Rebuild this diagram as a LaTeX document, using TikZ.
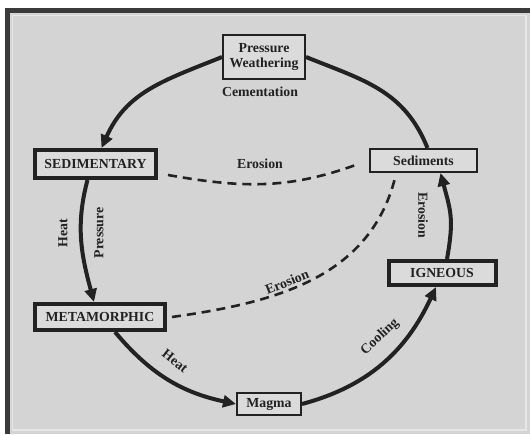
\documentclass[tikz,border=0pt]{standalone}
\usepackage{fontspec}
\setmainfont{Liberation Serif}
\definecolor{panel}{HTML}{D4D4D4}
\definecolor{boxfill}{HTML}{DBDBDB}
\definecolor{ink}{HTML}{222222}
\definecolor{rim}{HTML}{3A3A3A}
\definecolor{bevel}{HTML}{E6E6E6}
\usetikzlibrary{arrows.meta}
\newcommand{\cyclefont}{\fontsize{13.8}{15}\selectfont\bfseries}
\tikzset{
  rockbox/.style={draw=ink, line width=4pt, fill=boxfill, inner sep=0pt, text=ink, font=\cyclefont},
  stagebox/.style={draw=ink, line width=2pt, fill=boxfill, inner sep=0pt, text=ink, align=center, font=\cyclefont},
  lbl/.style={inner sep=0pt, text=ink, font=\cyclefont},
  cycline/.style={draw=ink, line width=4pt},
  cyc/.style={cycline, -{Triangle[length=13pt,width=12pt]}},
  erode/.style={draw=ink, line width=2.6pt, dash pattern=on 9pt off 6pt},
}

\begin{document}
\begin{tikzpicture}[x=1pt, y=1pt]
  \useasboundingbox (0,0) rectangle (530,-434);
  \fill[white] (0,0) rectangle (530,-434);
  \fill[rim] (5,-8) rectangle (530,-434);
  \fill[panel] (10,-13) rectangle (530,-434);
  \draw[bevel, line width=1.5pt] (12.5,-15.5) rectangle (526,-430);

  \node[stagebox, minimum width=82pt, minimum height=44pt] (pw) at (264,-57) {Pressure\\Weathering};
  \node[rockbox, minimum width=121pt, minimum height=28pt] (sed) at (95.5,-164) {SEDIMENTARY};
  \node[stagebox, minimum width=107pt, minimum height=23pt] (sedi) at (423.5,-160.5) {Sediments};
  \node[rockbox, minimum width=107pt, minimum height=24pt] (ign) at (442,-273) {IGNEOUS};
  \node[rockbox, minimum width=130pt, minimum height=26pt] (meta) at (100,-317) {METAMORPHIC};
  \node[stagebox, minimum width=64pt, minimum height=22pt] (magma) at (269,-404) {Magma};

  \node[lbl] (cem) at (260,-92) {Cementation};
  \node[lbl] (ero1) at (260,-164) {Erosion};
  \node[lbl, rotate=22] (ero2) at (287,-282) {Erosion};
  \node[lbl, rotate=-90] (ero3) at (423,-215) {Erosion};
  \node[lbl, rotate=90] (heat1) at (63,-233) {Heat};
  \node[lbl, rotate=90] (pres) at (99,-233) {Pressure};
  \node[lbl, rotate=-38] (heat2) at (175,-361) {Heat};
  \node[lbl, rotate=43] (cool) at (380,-337) {Cooling};

  \draw[cyc] (pw.west) to[out=202, in=66, looseness=1.05] ([xshift=6pt]sed.north);
  \draw[cycline] (pw.east) to[out=-22, in=112, looseness=1.05] ([xshift=4pt]sedi.north);
  \draw[cyc] ([xshift=-8pt]sed.south) to[out=-105, in=105] ([xshift=-6pt]meta.north);
  \draw[cyc] ([xshift=15pt]meta.south) to[out=-50, in=168] (magma.west);
  \draw[cyc] (magma.east) to[out=15, in=-115] ([xshift=-6pt]ign.south);
  \draw[cyc] ([xshift=5pt]ign.north) to[out=80, in=-75, looseness=1.2] ([xshift=17pt]sedi.south);

  \draw[erode] ([shift={(10pt,5pt)}]sed.south east) to[out=-10, in=200] ([shift={(-12pt,-4pt)}]sedi.west);
  \draw[erode] ([xshift=5pt]meta.east) to[out=8, in=-105] ([shift={(-29pt,-7pt)}]sedi.south);
\end{tikzpicture}
\end{document}
